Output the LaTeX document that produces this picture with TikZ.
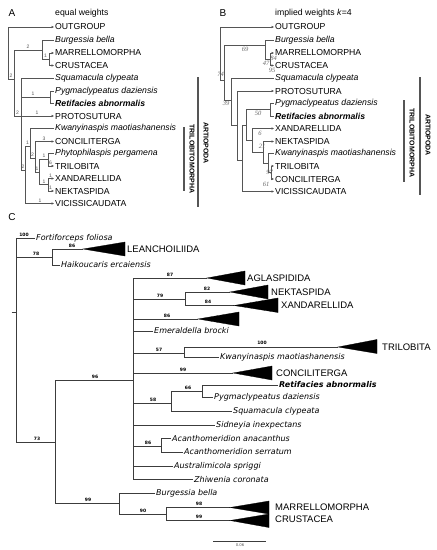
\documentclass[tikz,border=0pt]{standalone}
\usepackage{fontspec}
\setmainfont{Liberation Sans}
\newfontfamily\dvs{DejaVu Sans}
\newfontfamily\lser{Liberation Serif}
\usetikzlibrary{arrows.meta}
\definecolor{lgA}{HTML}{555555}
\definecolor{lgC}{HTML}{3C3C3C}
\definecolor{numBc}{HTML}{666666}
\tikzset{
 brA/.style={draw=lgA, line width=0.6pt},
 tipA/.style={brA, -{Latex[length=2.4pt,width=2.6pt]}},
 leafA/.style={anchor=west, inner sep=1pt, font=\fontsize{8.7}{10}\selectfont},
 spA/.style={anchor=west, inner sep=1pt, font=\fontsize{8.7}{10}\selectfont\itshape},
 spAb/.style={anchor=west, inner sep=1pt, font=\fontsize{8.7}{10}\selectfont\bfseries\itshape},
 numA/.style={inner sep=0pt, font=\fontsize{5}{5}\selectfont, text=lgA},
 numB/.style={inner sep=0pt, font=\lser\itshape\fontsize{6.5}{6.5}\selectfont, text=numBc},
 bar/.style={draw=lgA, line width=1.1pt},
 barlbl/.style={rotate=-90, font=\bfseries\fontsize{7}{7}\selectfont, inner sep=0pt},
 brC/.style={draw=lgC, line width=0.7pt},
 tri/.style={fill=black, draw=black, line width=0.3pt},
 cladeC/.style={anchor=west, inner sep=1pt, font=\fontsize{9.5}{10}\selectfont},
 spC/.style={anchor=west, inner sep=1pt, font=\dvs\itshape\fontsize{8}{9}\selectfont},
 spCb/.style={anchor=west, inner sep=1pt, font=\dvs\bfseries\itshape\fontsize{8}{9}\selectfont},
 numC/.style={inner sep=0pt, font=\dvs\bfseries\fontsize{4.5}{4.5}\selectfont},
 panel/.style={font=\fontsize{10}{10}\selectfont, inner sep=0pt},
}
\begin{document}
\begin{tikzpicture}[x=1pt,y=-1pt]
\fill[white] (0,0) rectangle (437,550);
\useasboundingbox (0,0) rectangle (437,550);

% ================= Panel A =================
\node[panel] (lA) at (12,13) {A};
\node[leafA, inner sep=0pt] (tA) at (55,13) {equal weights};

\coordinate (aR) at (8,27);
\coordinate (aN1) at (14,79);
\coordinate (aB) at (42,50);
\coordinate (aMC) at (49,59);
\coordinate (aN2) at (21,116);
\coordinate (aPR) at (50,97);
\coordinate (aN3) at (25,170);
\coordinate (aN4) at (30,146);
\coordinate (aN5) at (35,158);
\coordinate (aN6) at (39,172);
\coordinate (aPT) at (48,159);
\coordinate (aXN) at (48,184.5);

\node[leafA] (aOUT) at (54,27) {OUTGROUP};
\node[spA] (aBur) at (54,40.5) {Burgessia bella};
\node[leafA] (aMar) at (54,53) {MARRELLOMORPHA};
\node[leafA] (aCru) at (54,65.5) {CRUSTACEA};
\node[spA] (aSqu) at (54,78.5) {Squamacula clypeata};
\node[spA] (aPyg) at (54,91) {Pygmaclypeatus daziensis};
\node[spAb] (aRet) at (54,103.5) {Retifacies abnormalis};
\node[leafA] (aPro) at (54,116) {PROTOSUTURA};
\node[spA] (aKwa) at (54,128.5) {Kwanyinaspis maotiashanensis};
\node[leafA] (aCon) at (54,141.5) {CONCILITERGA};
\node[spA] (aPhy) at (54,153.5) {Phytophilaspis pergamena};
\node[leafA] (aTri) at (54,166) {TRILOBITA};
\node[leafA] (aXan) at (54,178.5) {XANDARELLIDA};
\node[leafA] (aNek) at (54,191) {NEKTASPIDA};
\node[leafA] (aVic) at (54,203.5) {VICISSICAUDATA};

\draw[tipA] (aR) -- (aOUT);
\draw[brA] (aR) |- (aN1);
\draw[brA] (aN1) |- (aB);
\draw[brA] (aB) |- (aBur);
\draw[brA] (aB) |- (aMC);
\draw[tipA] (aMC) |- (aMar);
\draw[tipA] (aMC) |- (aCru);
\draw[brA] (aN1) |- (aN2);
\draw[brA] (aN2) |- (aSqu);
\draw[brA] (aN2) |- (aPR);
\draw[brA] (aPR) |- (aPyg);
\draw[brA] (aPR) |- (aRet);
\draw[tipA] (aN2) -- (aPro);
\draw[brA] (aN2) |- (aN3);
\draw[brA] (aN3) |- (aN4);
\draw[tipA] (aN3) |- (aVic);
\draw[brA] (aN4) |- (aKwa);
\draw[brA] (aN4) |- (aN5);
\draw[tipA] (aN5) |- (aCon);
\draw[brA] (aN5) |- (aN6);
\draw[brA] (aN6) |- (aPT);
\draw[brA] (aN6) |- (aXN);
\draw[brA] (aPT) |- (aPhy);
\draw[tipA] (aPT) |- (aTri);
\draw[tipA] (aXN) |- (aXan);
\draw[tipA] (aXN) |- (aNek);

\node[numA] (aL1) at (11,76) {2};
\node[numA] (aL2) at (28,47) {2};
\node[numA] (aL3) at (45.5,56) {1};
\node[numA] (aL4) at (17.5,113) {2};
\node[numA] (aL5) at (33,94) {1};
\node[numA] (aL6) at (37,113) {1};
\node[numA] (aL7) at (23,167) {2};
\node[numA] (aL8) at (27.5,143) {1};
\node[numA] (aL9) at (40,200.5) {1};
\node[numA] (aL10) at (32.5,155) {2};
\node[numA] (aL11) at (44,138.5) {3};
\node[numA] (aL12) at (37,169) {1};
\node[numA] (aL13) at (44,156) {1};
\node[numA] (aL14) at (44,181.5) {1};
\node[numA] (aL15) at (50.5,163) {6};
\node[numA] (aL16) at (50.5,175.5) {1};
\node[numA] (aL17) at (50.5,188) {1};

\coordinate (aT1) at (184,127);
\coordinate (aT2) at (184,191);
\draw[bar] (aT1) -- (aT2);
\node[barlbl] (aTl) at (192,159) {TRILOBITOMORPHA};
\coordinate (aA1) at (198,77);
\coordinate (aA2) at (198,207);
\draw[bar] (aA1) -- (aA2);
\node[barlbl] (aAl) at (206,143) {ARTIOPODA};

% ================= Panel B =================
\node[panel] (lB) at (223,13) {B};
\node[leafA, inner sep=0pt] (tB) at (275,13) {implied weights \textit{k}=4};

\coordinate (bR) at (220,27);
\coordinate (bN1) at (224,80);
\coordinate (bB) at (265,45);
\coordinate (bMC) at (270,59);
\coordinate (bN2) at (231,100);
\coordinate (bN3) at (237,125);
\coordinate (bN4) at (242,160);
\coordinate (bN4b) at (246,125);
\coordinate (bPR) at (270,109.5);
\coordinate (bN5) at (252,140);
\coordinate (bN6) at (263,152);
\coordinate (bN7) at (268,163);
\coordinate (bN8) at (271,172.5);

\node[leafA] (bOUT) at (274,27) {OUTGROUP};
\node[spA] (bBur) at (274,40.5) {Burgessia bella};
\node[leafA] (bMar) at (274,53) {MARRELLOMORPHA};
\node[leafA] (bCru) at (274,65.5) {CRUSTACEA};
\node[spA] (bSqu) at (274,78.5) {Squamacula clypeata};
\node[leafA] (bPro) at (274,91) {PROTOSUTURA};
\node[spA] (bPyg) at (274,103.5) {Pygmaclypeatus daziensis};
\node[spAb] (bRet) at (274,116) {Retifacies abnormalis};
\node[leafA] (bXan) at (274,128.5) {XANDARELLIDA};
\node[leafA] (bNek) at (274,141.5) {NEKTASPIDA};
\node[spA] (bKwa) at (274,153.5) {Kwanyinaspis maotiashanensis};
\node[leafA] (bTri) at (274,166) {TRILOBITA};
\node[leafA] (bCon) at (274,179) {CONCILITERGA};
\node[leafA] (bVic) at (274,191.5) {VICISSICAUDATA};

\draw[tipA] (bR) -- (bOUT);
\draw[brA] (bR) |- (bN1);
\draw[brA] (bN1) |- (bB);
\draw[brA] (bB) |- (bBur);
\draw[brA] (bB) |- (bMC);
\draw[tipA] (bMC) |- (bMar);
\draw[tipA] (bMC) |- (bCru);
\draw[brA] (bN1) |- (bN2);
\draw[brA] (bN2) |- (bSqu);
\draw[brA] (bN2) |- (bN3);
\draw[tipA] (bN3) |- (bPro);
\draw[brA] (bN3) |- (bN4);
\draw[brA] (bN4) |- (bN4b);
\draw[tipA] (bN4) |- (bVic);
\draw[brA] (bN4b) |- (bPR);
\draw[brA] (bPR) |- (bPyg);
\draw[brA] (bPR) |- (bRet);
\draw[brA] (bN4b) |- (bN5);
\draw[tipA] (bN5) |- (bXan);
\draw[brA] (bN5) |- (bN6);
\draw[tipA] (bN6) |- (bNek);
\draw[brA] (bN6) |- (bN7);
\draw[brA] (bN7) |- (bKwa);
\draw[brA] (bN7) |- (bN8);
\draw[tipA] (bN8) |- (bTri);
\draw[tipA] (bN8) |- (bCon);

\node[numB] (bL1) at (220.5,74) {74};
\node[numB] (bL2) at (245,49.5) {69};
\node[numB] (bL3) at (266,63.5) {47};
\node[numB] (bL4) at (273.5,58) {84};
\node[numB] (bL5) at (272,70.5) {95};
\node[numB] (bL6) at (226,103.5) {39};
\node[numB] (bL7) at (258,113) {50};
\node[numB] (bL8) at (260,133) {6};
\node[numB] (bL9) at (262,146) {21};
\node[numB] (bL10) at (269.5,172) {97};
\node[numB] (bL11) at (266,184) {61};

\coordinate (bT1) at (404,100);
\coordinate (bT2) at (404,182);
\draw[bar] (bT1) -- (bT2);
\node[barlbl] (bTl) at (412,143) {TRILOBITOMORPHA};
\coordinate (bA1) at (420,77);
\coordinate (bA2) at (420,195);
\draw[bar] (bA1) -- (bA2);
\node[barlbl] (bAl) at (428,135) {ARTIOPODA};

% ================= Panel C =================
\node[panel] (lC) at (12,217) {C};
\coordinate (cRoot) at (16,312);
\coordinate (cStub) at (11.5,312);
\draw[brC] (cStub) -- (cRoot);

\node[spC] (cFor) at (35,238) {Fortiforceps foliosa};
\draw[brC] (cRoot) |- (cFor);
\node[numC] (cn100) at (24,235) {100};

\coordinate (cL) at (52,257);
\draw[brC] (cRoot) |- (cL);
\node[numC] (cn78) at (36,254) {78};
\coordinate (cLeT) at (83,249);
\draw[brC] (cL) |- (cLeT);
\coordinate (cLeA) at (125,242);
\coordinate (cLeB) at (125,256);
\draw[tri] (cLeT) -- (cLeA) -- (cLeB) -- cycle;
\node[cladeC] (cLea) at (126,249.5) {LEANCHOILIIDA};
\node[numC] (cn86a) at (72,246) {86};
\node[spC] (cHai) at (60,265) {Haikoucaris ercaiensis};
\draw[brC] (cL) |- (cHai);

\coordinate (c73) at (55,442);
\draw[brC] (cRoot) |- (c73);
\node[numC] (cn73) at (37,439) {73};

\coordinate (c96) at (133,380);
\draw[brC] (c73) |- (c96);
\node[numC] (cn96) at (95,376.5) {96};

% Aglaspidida
\coordinate (cAgT) at (207,278);
\draw[brC] (c96) |- (cAgT);
\coordinate (cAgA) at (245,271);
\coordinate (cAgB) at (245,285);
\draw[tri] (cAgT) -- (cAgA) -- (cAgB) -- cycle;
\node[cladeC] (cAg) at (246,278) {AGLASPIDIDA};
\node[numC] (cn87) at (170,275) {87};

% Nektaspida + Xandarellida
\coordinate (cNX) at (185,299);
\draw[brC] (c96) |- (cNX);
\node[numC] (cn79) at (160,295.5) {79};
\coordinate (cNeT) at (230,292);
\draw[brC] (cNX) |- (cNeT);
\coordinate (cNeA) at (268,285);
\coordinate (cNeB) at (268,299);
\draw[tri] (cNeT) -- (cNeA) -- (cNeB) -- cycle;
\node[cladeC] (cNe) at (270,292.5) {NEKTASPIDA};
\node[numC] (cn82) at (207,289) {82};
\coordinate (cXaT) at (234,305.5);
\draw[brC] (cNX) |- (cXaT);
\coordinate (cXaA) at (278,298);
\coordinate (cXaB) at (278,312.5);
\draw[tri] (cXaT) -- (cXaA) -- (cXaB) -- cycle;
\node[cladeC] (cXa) at (280,305.5) {XANDARELLIDA};
\node[numC] (cn84) at (208,302) {84};

% unnamed clade 86
\coordinate (cEmT) at (198,319);
\draw[brC] (c96) |- (cEmT);
\coordinate (cEmA) at (239,312);
\coordinate (cEmB) at (239,326);
\draw[tri] (cEmT) -- (cEmA) -- (cEmB) -- cycle;
\node[numC] (cn86b) at (167,315.5) {86};
\node[spC] (cEme) at (153,331) {Emeraldella brocki};
\draw[brC] (c96) |- (cEme);

% Trilobita + Kwanyinaspis
\coordinate (cTK) at (184,353);
\draw[brC] (c96) |- (cTK);
\node[numC] (cn57) at (159,349.5) {57};
\coordinate (cTrT) at (338,347);
\draw[brC] (cTK) |- (cTrT);
\coordinate (cTrA) at (377,339.5);
\coordinate (cTrB) at (377,353.5);
\draw[tri] (cTrT) -- (cTrA) -- (cTrB) -- cycle;
\node[cladeC] (cTr) at (381,347) {TRILOBITA};
\node[numC] (cn100b) at (262,342.5) {100};
\node[spC] (cKwa) at (219,357.5) {Kwanyinaspis maotiashanensis};
\draw[brC] (cTK) |- (cKwa);

% Conciliterga
\coordinate (cCoT) at (233,373);
\draw[brC] (c96) |- (cCoT);
\coordinate (cCoA) at (272,366);
\coordinate (cCoB) at (272,380);
\draw[tri] (cCoT) -- (cCoA) -- (cCoB) -- cycle;
\node[cladeC] (cCo) at (275,373) {CONCILITERGA};
\node[numC] (cn99a) at (183,369.5) {99};

% Retifacies clade
\coordinate (c58) at (171,403);
\draw[brC] (c96) |- (c58);
\node[numC] (cn58) at (153,399.5) {58};
\coordinate (cRP) at (202,391);
\draw[brC] (c58) |- (cRP);
\node[numC] (cn66) at (188,387.5) {66};
\node[spCb] (cRet) at (278,385) {Retifacies abnormalis};
\draw[brC] (cRP) |- (cRet);
\node[spC] (cPyg) at (213,397.5) {Pygmaclypeatus daziensis};
\draw[brC] (cRP) |- (cPyg);
\node[spC] (cSqu) at (232,411.5) {Squamacula clypeata};
\draw[brC] (c58) |- (cSqu);

\node[spC] (cSid) at (215,425) {Sidneyia inexpectans};
\draw[brC] (c96) |- (cSid);

\coordinate (cAc) at (161,446);
\draw[brC] (c96) |- (cAc);
\node[numC] (cn86c) at (148,442.5) {86};
\node[spC] (cAn) at (171,438.5) {Acanthomeridion anacanthus};
\draw[brC] (cAc) |- (cAn);
\node[spC] (cSe) at (183,452) {Acanthomeridion serratum};
\draw[brC] (cAc) |- (cSe);

\node[spC] (cAu) at (173,466) {Australimicola spriggi};
\draw[brC] (c96) |- (cAu);
\node[spC] (cZh) at (193,479.5) {Zhiwenia coronata};
\draw[brC] (c96) |- (cZh);

% lower clade 99
\coordinate (c99) at (119,503);
\draw[brC] (c73) |- (c99);
\node[numC] (cn99b) at (88,499.5) {99};
\node[spC] (cBur) at (155,493) {Burgessia bella};
\draw[brC] (c99) |- (cBur);
\coordinate (c90) at (166,514);
\draw[brC] (c99) |- (c90);
\node[numC] (cn90) at (143,510.5) {90};
\coordinate (cMaT) at (230,507.5);
\draw[brC] (c90) |- (cMaT);
\coordinate (cMaA) at (269,501);
\coordinate (cMaB) at (269,514);
\draw[tri] (cMaT) -- (cMaA) -- (cMaB) -- cycle;
\node[cladeC] (cMa) at (274,507) {MARRELLOMORPHA};
\node[numC] (cn98) at (199,504) {98};
\coordinate (cCrT) at (230,520.5);
\draw[brC] (c90) |- (cCrT);
\coordinate (cCrA) at (269,514);
\coordinate (cCrB) at (269,527.5);
\draw[tri] (cCrT) -- (cCrA) -- (cCrB) -- cycle;
\node[cladeC] (cCr) at (274,519.5) {CRUSTACEA};
\node[numC] (cn99c) at (199,517) {99};

% scale bar
\coordinate (sb1) at (213,541);
\coordinate (sb2) at (266,541);
\draw[brC, line width=0.6pt] (sb1) -- (sb2);
\node[inner sep=0pt, font=\dvs\fontsize{3.8}{4}\selectfont, text=lgA] (sbl) at (240,545.5) {0.06};
\end{tikzpicture}
\end{document}
